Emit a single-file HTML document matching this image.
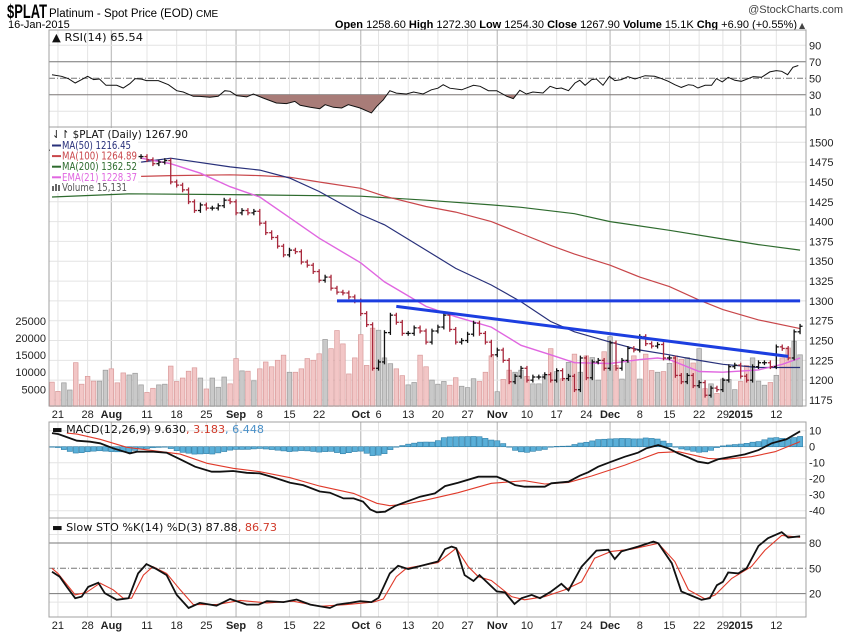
<!DOCTYPE html>
<html><head><meta charset="utf-8"><style>
body{margin:0;background:#fff;}
svg{display:block;font-family:"DejaVu Sans","Liberation Sans",sans-serif;}
.ax{font-size:11px;fill:#222;font-family:"Liberation Sans",sans-serif;}
.lg{font-size:11px;}
</style></head><body>
<svg id="chart" width="850" height="633" viewBox="0 0 850 633" xmlns="http://www.w3.org/2000/svg">
<rect x="0" y="0" width="850" height="633" fill="#fff"/>
<text x="7" y="18" style="font-family:'Liberation Sans',sans-serif;font-size:19px;font-weight:bold;" textLength="40" lengthAdjust="spacingAndGlyphs">$PLAT</text>
<text x="49" y="17" style="font-family:'Liberation Sans',sans-serif;font-size:11.5px;">Platinum - Spot Price (EOD) <tspan font-size="10">CME</tspan></text>
<text x="8" y="28" style="font-family:'Liberation Sans',sans-serif;font-size:11px;">16-Jan-2015</text>
<text x="843" y="13" text-anchor="end" style="font-family:'Liberation Sans',sans-serif;font-size:11px;fill:#444;">@StockCharts.com</text>
<text x="797" y="28" text-anchor="end" style="font-family:'Liberation Sans',sans-serif;font-size:11px;"><tspan font-weight="bold">Open</tspan> 1258.60 <tspan font-weight="bold">High</tspan> 1272.30 <tspan font-weight="bold">Low</tspan> 1254.30 <tspan font-weight="bold">Close</tspan> 1267.90 <tspan font-weight="bold">Volume</tspan> 15.1K <tspan font-weight="bold">Chg</tspan> +6.90 (+0.55%)</text>
<text x="799" y="28" style="font-size:8px;fill:#444;">▲</text>
<g id="g"></g>
</svg>
<script>
// ---------- data ----------
const closes=[1490,1488,1492,1495,1490,1485,1484,1482,1486,1488,1483,1480,1478,1480,1482,
1482,1478,1473,1475,1477,1450,1446,1440,1425,1414,1421,1417,1417,1420,1427,
1425,1411,1414,1411,1413,1398,1386,1380,1369,1358,1364,1362,1349,1345,1337,1326,1330,1316,1311,1310,
1305,1300,1284,1270,1215,1223,1260,1282,1273,1259,1259,1266,1262,1248,1262,1267,1282,1264,1248,1250,
1258,1272,1259,1248,1232,1238,1225,1198,1205,1215,1200,1204,1204,1207,1200,1212,1202,1205,1188,1228,
1203,1223,1225,1215,1247,1215,1225,1240,1238,1255,1246,1243,1245,1228,1228,1206,1198,1206,1193,1197,
1181,1190,1188,1200,1217,1219,1205,1200,1217,1222,1222,1217,1242,1240,1228,1261,1268];
const volumes=[7.1,4.4,6.9,4.8,12.8,6.5,8.8,7.4,7.4,10.6,11,6.9,9.8,9.2,9.7,6.3,4.1,5.3,6.3,6.5,
11.8,7.3,8.3,10.3,11.3,8.3,5.1,8.3,5.6,8.6,6.6,14,10.4,10.3,7.5,11,13,11.6,13.5,15,
10,10,11,14,13.5,15.4,19.6,16.9,22.2,18.3,9.5,14.2,21,12,22.9,22.3,14.2,12.5,11,9,
6.3,7,15,11.6,7.7,6.5,7.3,6.2,8.4,5.9,5.5,8.1,7.3,10,14.8,4.3,7.9,10.6,10,10.6,
8.8,6.6,6.6,9.3,16.9,10.2,8.1,12.9,15.3,10,14.8,14.3,7.7,16,20.4,12,8,12.8,14.8,8,
15.3,10.5,10,10.2,12.6,14.8,13.8,14.3,12.7,16.9,5.2,6.6,3.8,8,7.9,4.9,7.3,12,14.2,7.4,
6.2,7,9.1,14.2,17.1,19.1,15.1];
const maIdx=[15,20,30,35,40,45,52,56,63,68,74,79,84,88,94,99,104,109,113,119,126];
const ma50=[1475,1480,1469,1465,1455,1438,1409,1396,1364,1341,1320,1299,1274,1261,1248,1238,1232,1225,1220,1216,1216];
const ma100=[1457,1458,1459,1458,1456,1450,1442,1432,1419,1412,1400,1385,1370,1359,1345,1330,1318,1301,1289,1276,1265];
const ma200Idx=[0,13,30,52,63,74,79,88,94,104,113,119,126];
const ma200=[1431,1435,1434,1432,1427,1421,1418,1410,1400,1389,1378,1371,1364];
const emaIdx=[15,20,25,30,35,40,45,52,56,63,68,74,79,84,88,94,99,102,104,109,113,119,123,126];
const ema21=[1480,1473,1461,1444,1431,1405,1379,1348,1324,1293,1280,1267,1244,1232,1222,1221,1226,1228,1226,1211,1210,1213,1220,1228];
const resIdx=[48,126];const resVal=[1300,1300];
const trendIdx=[58,124];const trendVal=[1293,1230];
const rsiIdx=[0,1.6,2.75,3.9,5,6,7,8,9.1,10.9,12,13.1,14,15.1,15.9,17.9,19.6,21,22.1,23.8,24.9,26.6,28,29.1,30,31.1,32.8,33.9,35.6,37.8,39.5,40.9,41.8,43.5,45.1,46,47.4,48.8,49.9,51.9,53.8,54.7,55.8,56.9,58,59.7,60.9,62.5,
63.9,65,65.9,67,69,71,72.1,73.5,74.9,76.6,77.7,78.8,79.9,81,82.7,83.9,85,85.8,87,88.1,88.9,89.8,90.9,91.7,92.8,93.9,94.8,95.9,97,98.2,99.9,101.5,102.7,103.8,104.9,106,107.2,108,108.8,110,111.1,111.9,112.9,113.9,115,116.1,118.1,119.5,120.9,122,122.9,123.9,124.8,125.7];
const rsiVal=[54.4,52.4,49.6,44.3,48.4,52.4,48.4,49.2,41.5,41.5,38.3,43.5,49.6,49,47.2,47.2,42.3,35,33.4,28.2,28,27,28.2,35,34.2,29,27.4,31,26,20,19.3,22,17.3,14.8,13.2,18,14.8,14,18,14,8,16,24,35,32,31,33.4,31,
36,38,42.3,38,36,41.5,40.3,35,35,28.2,25.4,35.5,31,33.4,32.2,40.3,37.5,38.3,35,44.3,47.6,41.5,48.4,49.2,41.5,52.4,47.2,48.4,52,49.2,53.2,52.4,49.6,46.4,42.3,39,42.3,41.5,38.3,41.5,41.5,49.6,45.6,51.2,47.6,46.4,52,51.2,57.7,59.3,58.5,54.4,63.3,65.5];
const macdIdx=[0,1.1,4.2,6.4,8.1,10.3,13.1,14.3,17.1,19.3,21.6,24.1,26.9,28.3,30.5,32.8,35,37.3,40.1,42.3,45.1,46.8,49.1,50.8,52.4,53.6,54.7,56.1,57.8,59.7,62,64.5,66.2,68.4,71.8,74.9,76.3,78,79.6,83,84.1,87,88.9,90.3,92,94.2,96.5,98.7,100.1,102.1,103.8,105.5,107.2,108.8,110.5,112.2,114.5,116.7,119,121.2,123.7,126];
const macdVal=[8.5,7.9,3.75,3.1,2.1,-1,-4.2,-3.1,-3.1,-3.75,-7.9,-12.5,-15.6,-15.6,-15.2,-16.3,-16.7,-19.2,-22.5,-24,-28,-28.75,-32.3,-32.3,-34.4,-39.2,-41,-40.6,-37,-34.4,-31.25,-29.2,-24.6,-22.5,-18.75,-18.75,-20.8,-24,-25,-25,-22.9,-21.9,-18.1,-16,-12.5,-9.4,-6.25,-3.75,-1,1,-1,-4.2,-6.7,-9.4,-10.4,-7.9,-6.25,-4.8,-2.1,2.1,4.6,9.6];
const sigIdx=[2.5,4.2,8.1,12.6,17.1,21.6,26.1,30.5,35,40.1,45.1,50.8,54.7,56.9,59.7,62.8,68.4,74,79.6,83,87,90.9,96.5,102.1,105.5,110.5,113.3,117.8,121.8,126];
const sigVal=[8.5,7.9,4.6,-0.4,-2.5,-4.6,-10.4,-13.5,-15.6,-19.4,-24.6,-29.2,-35.4,-36.9,-35.8,-33.5,-28.75,-22.9,-21.25,-23.3,-22.3,-18.3,-11.5,-3.75,-3.1,-7.3,-7.9,-6.25,-3.1,3.2];
const kIdx=[0,1.3,2.5,3.9,5,6.1,7.8,8.9,10.9,12.9,14.5,15.9,17.6,19.3,21,23,24.9,27.7,30,32.8,34.8,36.2,39,41.2,43.5,45.7,46.8,48,50.2,51.9,53.8,55,56.9,58.3,60,62.8,65,66.2,67.3,68.1,69.5,71,72,74.9,76.3,77.9,79.1,80.8,82.2,84.1,85.8,87,89.2,91.7,93.7,94.8,95.9,98.7,101.3,102.1,104.4,106,109.4,110.8,112,113,113.9,115.6,117,119,120.6,122.9,124,126];
const kVal=[46,40,28,14.6,16.5,28,33,20.5,12.7,14.6,44,55,49,42,18.5,3,9,5.7,13.6,7,7,11,10,13,7,4.3,3,7,9,11,10,15,44,53,49,54,58,72.6,75.7,73.8,42,35,42,22.7,21.5,7.7,14.6,18.5,14.6,22.7,31.7,23.8,52,71,72,61,70,75.7,81.6,79.6,56,22.7,12.7,14.6,30,34,45,44,50,76.5,85.6,92.7,86.4,87.9];
const dIdx=[0,1,3.9,5.8,8.1,10.3,12,13.4,15.4,17,19.3,21.6,23.8,27.7,31.7,36.2,40.6,45.2,49.6,54.1,55.8,58,59.7,62.8,65,68.1,70.1,71.8,74,77.4,79.6,83,86.4,89.2,91.4,94.2,97.6,102.1,104.9,107.2,110,111.7,114.5,117.8,120.1,122.9,126];
const dVal=[50,44,18.5,21.5,32.5,24.5,14.6,14.6,42,52,44,24.5,7,7,12,9,11,5,7,10,13.6,40,50,54,56.7,73.8,52,40,35.5,16.5,12.7,16.5,24.5,34,62,70,72.6,79.6,58,24.5,13.6,18.5,38,52,71.5,89,86.7];
const tickIdx=[1,6,10,16,21,26,31,35,40,45,52,55,60,65,70,75,80,85,90,94,99,104,109,113,116,122];
const tickText=['21','28','Aug','11','18','25','Sep','8','15','22','Oct','6','13','20','27','Nov','10','17','24','Dec','8','15','22','29','2015','12'];
const tickMonth=[0,0,1,0,0,0,1,0,0,0,1,0,0,0,0,1,0,0,0,1,0,0,0,0,1,0];
const priceTicks=[1175,1200,1225,1250,1275,1300,1325,1350,1375,1400,1425,1450,1475,1500];
const volTicks=[5000,10000,15000,20000,25000];
const rsiTicks=[10,30,50,70,90];
const macdTicks=[10,0,-10,-20,-30,-40];
const stoTicks=[20,50,80];

// ---------- axes ----------
const L=49,R=806;
const X=i=>52+i*5.937;
const PY=p=>400-(p-1175)*0.7929;
const VY=v=>406.4-v*3.416;
const RY=v=>78.3-(v-50)*0.825;
const MY=v=>446.7-v*1.6;
const SY=v=>568.3-(v-50)*0.8444;
const NS='http://www.w3.org/2000/svg';
const G=document.getElementById('g');
function mk(tag,at,parent){const e=document.createElementNS(NS,tag);for(const k in at)e.setAttribute(k,at[k]);(parent||G).appendChild(e);return e;}
function pts(idx,val,fy){return idx.map((d,j)=>X(d).toFixed(1)+','+fy(val[j]).toFixed(1)).join(' ');}

const panels=[[30,127,'rsi-panel'],[127,406,'price-panel'],[422,518,'macd-panel'],[518,617,'sto-panel']];
panels.forEach(p=>{
  const r=mk('rect',{x:L,y:p[0],width:R-L,height:p[1]-p[0],fill:'#fff',stroke:'none'});
  
  
  tickIdx.forEach((d,j)=>{
    mk('line',{x1:X(d),x2:X(d),y1:p[0],y2:p[1],stroke:tickMonth[j]?'#c4c4c4':'#e4e4e4','stroke-width':tickMonth[j]?1.3:1});
  });
});
function hgrid(y,c,w,dash){mk('line',{x1:L,x2:R,y1:y,y2:y,stroke:c,'stroke-width':w||1,'stroke-dasharray':dash||'none'});}
priceTicks.forEach(p=>{hgrid(PY(p),'#e4e4e4');
  const t=mk('text',{x:809,y:PY(p)+4,class:'ax'});t.textContent=p;
  
  });
volTicks.forEach(v=>{const t=mk('text',{x:46,y:VY(v/1000)+4,class:'ax','text-anchor':'end'});t.textContent=v;
  
  });
[90,10].forEach(v=>hgrid(RY(v),'#e4e4e4'));
[70,30].forEach(v=>hgrid(RY(v),'#777'));hgrid(RY(50),'#777',1,'6,2,1,2');
rsiTicks.forEach(v=>{const t=mk('text',{x:809,y:RY(v)+4,class:'ax'});t.textContent=v;
  
  });
macdTicks.forEach(v=>{hgrid(MY(v),'#e4e4e4');const t=mk('text',{x:809,y:MY(v)+4,class:'ax'});t.textContent=v;
  
  });
[10,90].forEach(v=>hgrid(SY(v),'#e4e4e4'));
[80,20].forEach(v=>hgrid(SY(v),'#777'));hgrid(SY(50),'#777',1,'6,2,1,2');
stoTicks.forEach(v=>{const t=mk('text',{x:809,y:SY(v)+4,class:'ax'});t.textContent=v;
  
  });
[414,625].forEach((yy,k)=>{tickIdx.forEach((d,j)=>{
  const t=mk('text',{x:X(d),y:yy+4,class:'ax','text-anchor':'middle','font-weight':tickMonth[j]?'bold':'normal'});
  t.textContent=tickText[j];
  
  });});

// ---------- RSI ----------
const cp=mk('clipPath',{id:'below30'});mk('rect',{x:L,y:RY(30),width:R-L,height:127-RY(30)},cp);
const rsiFill=mk('polygon',{points:X(rsiIdx[0])+','+RY(30)+' '+pts(rsiIdx,rsiVal,RY)+' '+X(rsiIdx[rsiIdx.length-1])+','+RY(30),fill:'#a87c78','clip-path':'url(#below30)'});


const rsiLine=mk('polyline',{points:pts(rsiIdx,rsiVal,RY),fill:'none',stroke:'#111','stroke-width':1});



// ---------- volume ----------
volumes.forEach((v,i)=>{
  const up=i>0&&closes[i]>=closes[i-1];
  const b=mk('rect',{x:X(i)-2.3,y:VY(v),width:4.6,height:406.4-VY(v),fill:up?'#c9c9c9':'#f2c6c6',stroke:up?'#9a9a9a':'#d99a9a','stroke-width':0.7});
  
  
});
function line(idx,val,col,w,name){const l=mk('polyline',{points:pts(idx,val,PY),fill:'none',stroke:col,'stroke-width':w});
  
  }
line(ma200Idx,ma200,'#2e6b2e',1.2,'ma200-line');
line(maIdx,ma100,'#c8464a',1.2,'ma100-line');
line(maIdx,ma50,'#28307a',1.2,'ma50-line');
line(emaIdx,ema21,'#e066e0',1.4,'ema21-line');
closes.forEach((c,i)=>{
  const o=i>0?closes[i-1]:c;
  const hi=Math.max(o,c)+3,lo=Math.min(o,c)-3;
  const col=(i>0&&c<closes[i-1])?'#a8283c':'#111';
  const g=mk('g',{stroke:col,'stroke-width':1.3});
  
  
  mk('line',{x1:X(i),x2:X(i),y1:PY(hi),y2:PY(lo)},g);
  mk('line',{x1:X(i)-2.5,x2:X(i),y1:PY(o),y2:PY(o)},g);
  mk('line',{x1:X(i),x2:X(i)+2.5,y1:PY(c),y2:PY(c)},g);
});
line(resIdx,resVal,'#1c3ee0',3,'resistance-line');
line(trendIdx,trendVal,'#1c3ee0',3,'downtrend-line');

// ---------- MACD ----------
function interp(idx,val,d){if(d<=idx[0])return val[0];for(let j=1;j<idx.length;j++){if(d<=idx[j]){const t=(d-idx[j-1])/(idx[j]-idx[j-1]);return val[j-1]+t*(val[j]-val[j-1]);}}return val[val.length-1];}
closes.forEach((c,i)=>{
  const h=interp(macdIdx,macdVal,i)-interp(sigIdx,sigVal,i);
  const y0=MY(0),y1=MY(h);
  const b=mk('rect',{x:X(i)-2.6,y:Math.min(y0,y1),width:5.2,height:Math.max(0.5,Math.abs(y1-y0)),fill:'#5aafd8',stroke:'#2f7fa8','stroke-width':0.6});
  
  
});
const sl=mk('polyline',{points:pts(sigIdx,sigVal,MY),fill:'none',stroke:'#e03a2a','stroke-width':1.1});


const ml=mk('polyline',{points:pts(macdIdx,macdVal,MY),fill:'none',stroke:'#111','stroke-width':1.8});



// ---------- STO ----------
const dl=mk('polyline',{points:pts(dIdx,dVal,SY),fill:'none',stroke:'#e03a2a','stroke-width':1.1});


const kl=mk('polyline',{points:pts(kIdx,kVal,SY),fill:'none',stroke:'#111','stroke-width':1.8});



panels.forEach(p=>mk('rect',{x:L,y:p[0],width:R-L,height:p[1]-p[0],fill:'none',stroke:'#a0a0a0','stroke-width':1}));

// ---------- legends ----------
const lgBg=mk('rect',{x:L+1,y:128,width:88,height:65,fill:'#fff'});


function txt(x,y,s,col,name,w){const t=mk('text',{x:x,y:y,fill:col,class:'lg',textLength:w,lengthAdjust:'spacingAndGlyphs'});t.textContent=s;
  
  return t;}
txt(52,138,'⇃↾ $PLAT (Daily) 1267.90','#111','price-legend-title',136);
const leg=[['MA(50) 1216.45','#28307a','legend-ma50',69],['MA(100) 1264.89','#c8464a','legend-ma100',75],['MA(200) 1362.52','#2e6b2e','legend-ma200',75],['EMA(21) 1228.37','#e066e0','legend-ema21',75]];
leg.forEach((l,j)=>{const y=149+j*10.6;
  const sw=mk('line',{x1:52,x2:61,y1:y-3.5,y2:y-3.5,stroke:l[1],'stroke-width':2});
  
  
  txt(62,y,l[0],l[1],l[2],l[3]);});
const vi=mk('g',{fill:'#666'});


[[52,186,2,5],[55,184,2,7],[58,185,2,6]].forEach(r=>mk('rect',{x:r[0],y:r[1],width:r[2],height:r[3]},vi));
txt(62,191,'Volume 15,131','#555','legend-volume',65);
txt(52,41,'▲ RSI(14) 65.54','#111','rsi-legend',91);
const mt=mk('text',{x:52,y:433,class:'lg',textLength:212,lengthAdjust:'spacingAndGlyphs'});
mt.innerHTML='<tspan fill="#111">▬ MACD(12,26,9) 9.630</tspan><tspan fill="#d03a2a">, 3.183</tspan><tspan fill="#4a90c8">, 6.448</tspan>';


const st=mk('text',{x:52,y:531,class:'lg',textLength:225,lengthAdjust:'spacingAndGlyphs'});
st.innerHTML='<tspan fill="#111">▬ Slow STO %K(14) %D(3) 87.88</tspan><tspan fill="#d03a2a">, 86.73</tspan>';


</script>
</body></html>
